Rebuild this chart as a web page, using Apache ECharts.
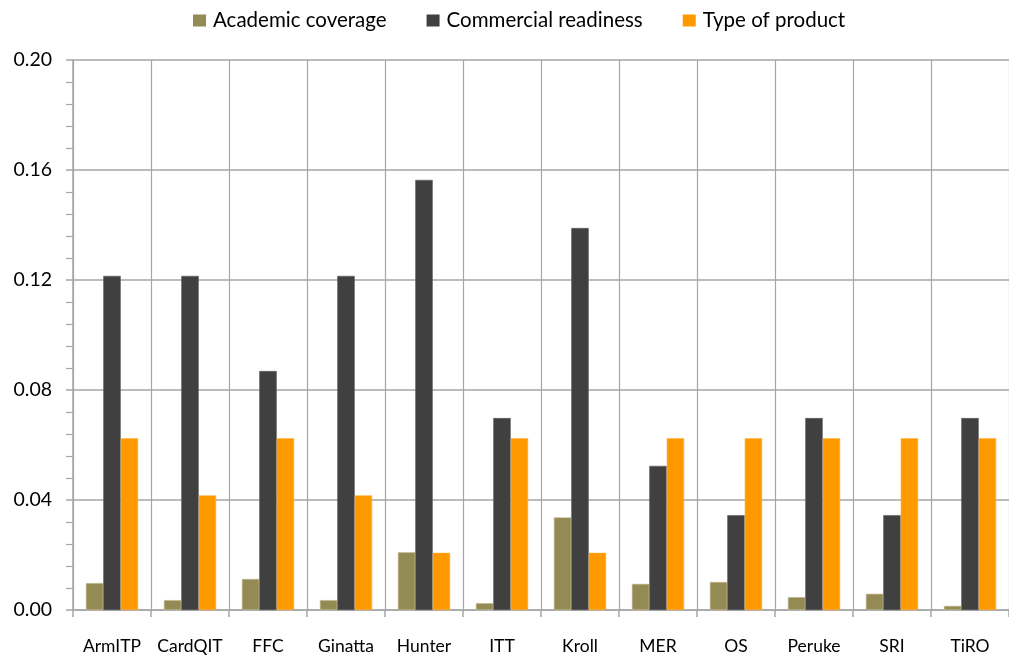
<!DOCTYPE html>
<html>
<head>
<meta charset="utf-8">
<script src="https://cdn.jsdelivr.net/npm/echarts@6/dist/echarts.min.js"></script>
<style>
  html, body { margin: 0; padding: 0; background: #fff; }
  #chart { width: 1009px; height: 657px; }
</style>
</head>
<body>
<div id="chart"></div>
<script>
// Product names along the x axis
const categories = ['ArmITP', 'CardQIT', 'FFC', 'Ginatta', 'Hunter', 'ITT', 'Kroll', 'MER', 'OS', 'Peruke', 'SRI', 'TiRO'];

// Weighted scores per criterion
const academicCoverage = [0.0098, 0.0036, 0.0113, 0.0036, 0.0210, 0.0025, 0.0337, 0.0095, 0.0102, 0.0047, 0.0059, 0.0015];
const commercialReadiness = [0.1215, 0.1215, 0.0869, 0.1215, 0.1564, 0.0698, 0.1389, 0.0524, 0.0345, 0.0698, 0.0345, 0.0698];
const typeOfProduct = [0.0625, 0.0417, 0.0625, 0.0417, 0.0208, 0.0625, 0.0208, 0.0625, 0.0625, 0.0625, 0.0625, 0.0625];

const seriesNames = ['Academic coverage', 'Commercial readiness', 'Type of product'];
const yTicks = { min: 0, max: 0.20, interval: 0.04 };

const FONT = 'Lato, "Open Sans", sans-serif';
const GRID_COLOR = '#a6a6a6';

const chart = echarts.init(document.getElementById('chart'), null, { renderer: 'canvas' });

function barSeries(name, data, color, border) {
  return {
    name: name,
    type: 'bar',
    data: data,
    barGap: '0%',
    barCategoryGap: '33%',
    itemStyle: { color: color, borderColor: border, borderWidth: 0.6 },
    emphasis: { disabled: true }
  };
}

chart.setOption({
  animation: false,
  textStyle: { fontFamily: FONT },
  legend: {
    top: 10,
    left: 193,
    padding: 0,
    itemWidth: 13,
    itemHeight: 12,
    itemGap: 40,
    icon: 'rect',
    itemStyle: { borderWidth: 0 },
    textStyle: { fontSize: 20.5, color: '#000', fontFamily: FONT, padding: [0, 0, 0, 2] },
    data: seriesNames
  },
  grid: { left: 73, right: -12, top: 60, bottom: 47, containLabel: false },
  xAxis: {
    type: 'category',
    data: categories,
    boundaryGap: true,
    axisLine: { show: true, lineStyle: { color: GRID_COLOR, width: 1.5 } },
    axisTick: { show: true, interval: 0, length: 7, inside: false, lineStyle: { color: GRID_COLOR, width: 1.5 } },
    splitLine: { show: true, interval: 0, lineStyle: { color: GRID_COLOR, width: 1.2 } },
    axisLabel: { interval: 0, fontSize: 17.5, color: '#000', margin: 27, fontFamily: FONT }
  },
  yAxis: {
    type: 'value',
    min: yTicks.min,
    max: yTicks.max,
    interval: yTicks.interval,
    axisLine: { show: true, lineStyle: { color: GRID_COLOR, width: 1.5 } },
    axisTick: { show: true, length: 7, lineStyle: { color: GRID_COLOR, width: 1.5 } },
    minorTick: { show: true, splitNumber: 5, length: 7, lineStyle: { color: GRID_COLOR, width: 1.2 } },
    splitLine: { show: true, lineStyle: { color: GRID_COLOR, width: 1.5 } },
    axisLabel: {
      fontSize: 19.5, color: '#000', margin: 21, fontFamily: FONT,
      formatter: function (v) { return v.toFixed(2); }
    }
  },
  series: [
    barSeries(seriesNames[0], academicCoverage, '#948a54', '#c4bd97'),
    barSeries(seriesNames[1], commercialReadiness, '#404040', '#5a5a5a'),
    barSeries(seriesNames[2], typeOfProduct, '#ff9900', '#ffb347')
  ]
});
</script>
</body>
</html>
